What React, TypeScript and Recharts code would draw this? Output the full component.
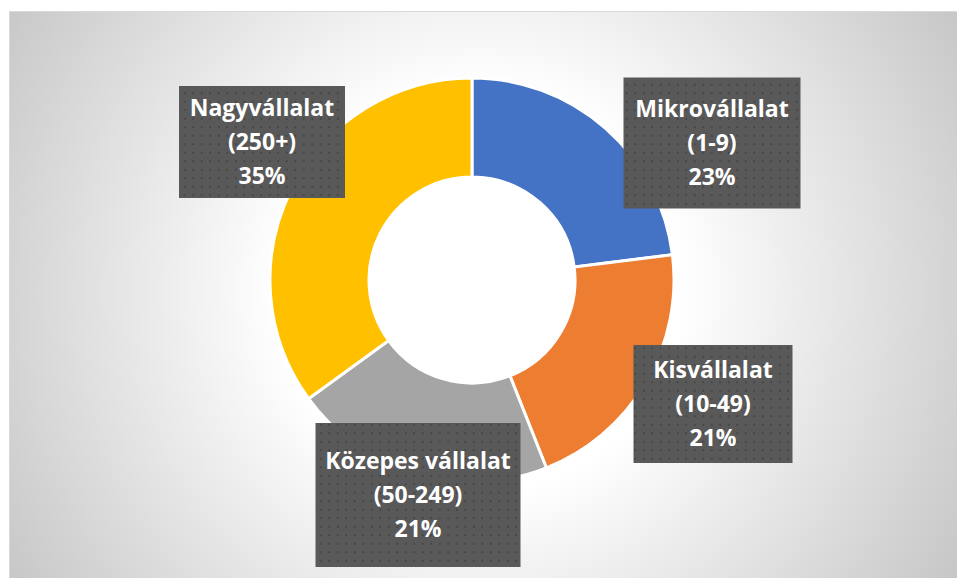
import { Pie, PieChart, Cell } from "recharts";

// vállalatméret szerinti megoszlás
const categories = ["Mikrovállalat", "Kisvállalat", "Közepes vállalat", "Nagyvállalat"];
const ranges = ["(1-9)", "(10-49)", "(50-249)", "(250+)"];
const shares = [23, 21, 21, 35];

const colors = ["#4472C4", "#ED7D31", "#A5A5A5", "#FFC000"];

// label box placement relative to the pie centre (dx, dy = box centre)
const labelBoxes = [
	{ dx: 240, dy: -137, w: 177, h: 131 },
	{ dx: 241, dy: 124, w: 159, h: 118 },
	{ dx: -54, dy: 215, w: 205, h: 144 },
	{ dx: -210, dy: -138, w: 166, h: 112 },
];

const data = categories.map((name, i) => ({ name, range: ranges[i], value: shares[i] }));

const W = 948;
const H = 567;

function BoxLabel(props: any) {
	const { cx, cy, index, percent } = props;
	const box = labelBoxes[index];
	const bx = cx + box.dx;
	const by = cy + box.dy;
	const lines = [categories[index], ranges[index], `${Math.round(percent * 100)}%`];
	return (
		<g>
			<defs>
				<pattern id={`dots-${index}`} width={8.5} height={8.5} patternUnits="userSpaceOnUse">
					<rect width={8.5} height={8.5} fill="#595959" />
					<rect x={4} y={4} width={1.5} height={1.5} fill="#3a3a3a" />
				</pattern>
			</defs>
			<rect x={bx - box.w / 2} y={by - box.h / 2} width={box.w} height={box.h} fill={`url(#dots-${index})`} />
			{lines.map((t, i) => (
				<text
					key={i}
					x={bx}
					y={by - 26 + i * 34}
					textAnchor="middle"
					fill="#ffffff"
					fontFamily="'Open Sans', sans-serif"
					fontWeight={700}
					fontSize={23}
				>
					{t}
				</text>
			))}
		</g>
	);
}

export default function App() {
	return (
		<div style={{ position: "absolute", left: 0, top: 0, width: 957, height: 578, background: "#ffffff", overflow: "hidden" }}>
			<div
				style={{
					position: "absolute",
					left: 9,
					top: 11,
					width: W,
					height: H,
					borderLeft: "1px solid #d9d9d9",
					borderTop: "1px solid #d9d9d9",
					background: "radial-gradient(circle 560px at 470px 278px, #ffffff 0px, #ffffff 200px, #c6c6c6 560px)",
				}}
			>
				<PieChart width={W} height={H} margin={{ top: 0, right: 0, bottom: 0, left: 0 }}>
					<Pie
						data={data}
						dataKey="value"
						nameKey="name"
						cx={462}
						cy={268}
						innerRadius={103}
						outerRadius={202}
						startAngle={90}
						endAngle={-270}
						stroke="#ffffff"
						strokeWidth={3}
						labelLine={false}
						label={BoxLabel}
						isAnimationActive={false}
					>
						{data.map((d, i) => (
							<Cell key={d.name} fill={colors[i]} />
						))}
					</Pie>
				</PieChart>
			</div>
		</div>
	);
}
